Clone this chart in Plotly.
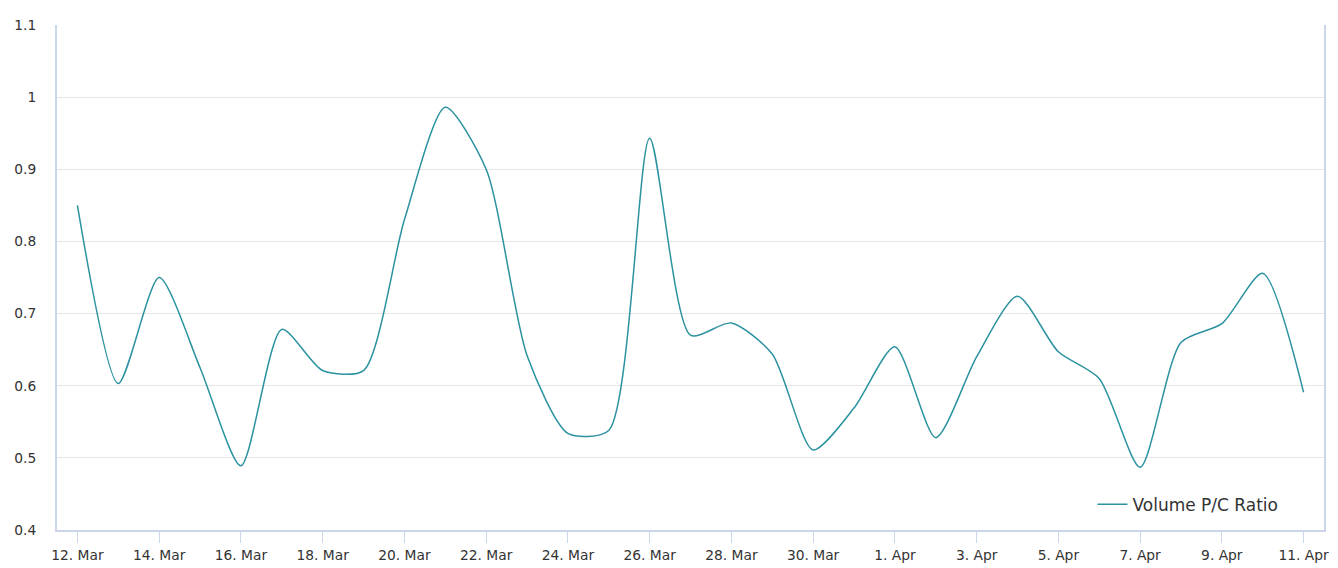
import plotly.graph_objects as go
import pandas as pd

dates = pd.date_range("2024-03-12", "2024-04-11", freq="D")
pc_ratio = [0.85, 0.603, 0.75, 0.625, 0.489, 0.678, 0.621, 0.621, 0.83, 0.986,
            0.90, 0.642, 0.534, 0.538, 0.943, 0.670, 0.687, 0.644, 0.511, 0.569,
            0.654, 0.528, 0.640, 0.724, 0.647, 0.610, 0.487, 0.660, 0.686, 0.756,
            0.591]
series_name = "Volume P/C Ratio"
y_ticks = [0.4, 0.5, 0.6, 0.7, 0.8, 0.9, 1.0, 1.1]
y_labels = ["0.4", "0.5", "0.6", "0.7", "0.8", "0.9", "1", "1.1"]

fig = go.Figure()
fig.add_trace(go.Scatter(
    x=dates, y=pc_ratio, mode="lines", name=series_name,
    line=dict(color="#2b92a0", width=1.5, shape="spline", smoothing=0.7),
))

fig.update_layout(
    width=1330, height=560,
    margin=dict(l=49, r=14, t=17, b=38, autoexpand=False),
    paper_bgcolor="white", plot_bgcolor="white",
    font=dict(family="DejaVu Sans", size=13.8, color="#333333"),
    showlegend=True,
    legend=dict(x=0.968, y=0.05, xanchor="right", yanchor="middle",
                font=dict(size=17, color="#333333"), bgcolor="rgba(0,0,0,0)"),
    xaxis=dict(
        range=[pd.Timestamp("2024-03-11 12:00"), pd.Timestamp("2024-04-11 12:00")],
        tick0="2024-03-12", dtick=2 * 86400000, tickformat="%-d. %b",
        showgrid=False, showline=True, linecolor="#ccd6eb", linewidth=2,
        ticks="outside", ticklen=11, tickcolor="#ccd6eb", tickwidth=1,
        tickfont=dict(size=13.8, color="#333333"), zeroline=False,
        automargin=False,
    ),
    yaxis=dict(
        range=[0.4, 1.1], tickvals=y_ticks, ticktext=y_labels,
        showgrid=True, gridcolor="#e6e6e6", gridwidth=1,
        showline=True, linecolor="#ccd6eb", linewidth=2, mirror=True,
        ticks="", ticklabelstandoff=16,
        tickfont=dict(size=13.8, color="#333333"), zeroline=False,
        automargin=False,
    ),
)

fig.write_html("out.html")
